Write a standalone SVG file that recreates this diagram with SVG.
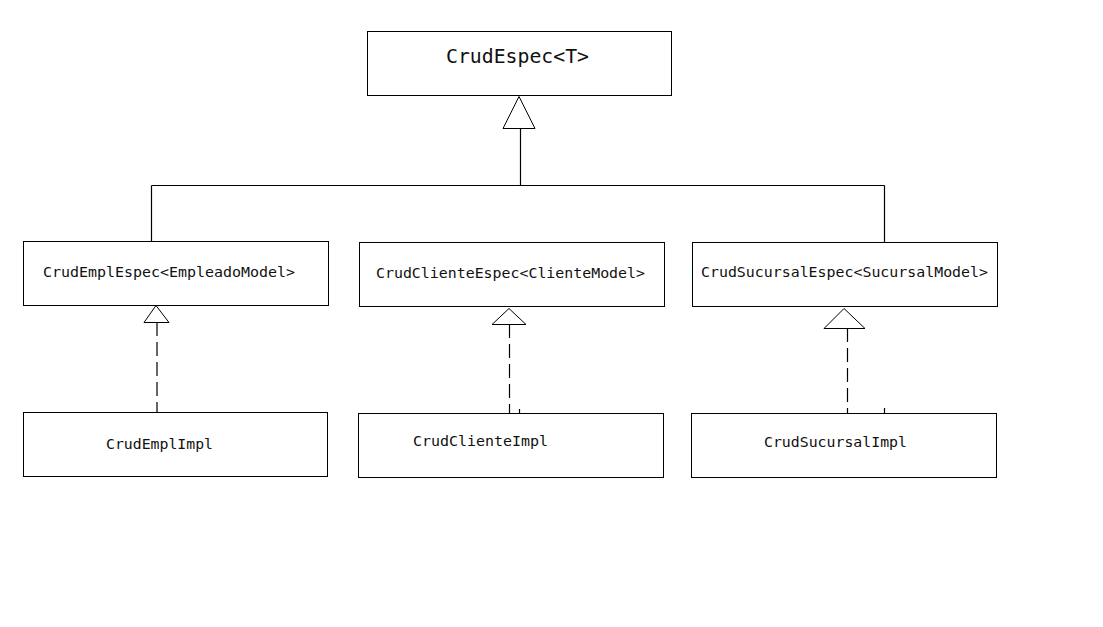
<svg xmlns="http://www.w3.org/2000/svg" width="1103" height="627" viewBox="0 0 1103 627">
<style>
.box{fill:#fff;stroke:#000;stroke-width:1;shape-rendering:crispEdges}
.ln{fill:none;stroke:#000;stroke-width:1.2}
.dash{fill:none;stroke:#000;stroke-width:1.2;stroke-dasharray:14 6}
.tri{fill:#fff;stroke:#000;stroke-width:1}
.t{font-family:"DejaVu Sans Mono","Liberation Mono",monospace;font-size:14.5px;fill:#111}
.tb{font-family:"DejaVu Sans Mono","Liberation Mono",monospace;font-size:19px;fill:#111}
</style>
<rect width="1103" height="627" fill="#fff"/>
<g id="connectors">
<path class="ln" d="M520.5 128 V185.5 M151.5 185.5 H884.5 M151.5 185.5 V242 M884.5 185.5 V246"/>
<polygon class="tri" points="519,96.5 503,128.5 535,128.5"/>
<path class="dash" d="M157 322 V414"/>
<polygon class="tri" points="156,305.5 144,322.5 169,322.5"/>
<path class="dash" d="M509.5 324 V415"/>
<polygon class="tri" points="509,308.5 492,324.5 526,324.5"/>
<path class="dash" d="M847.5 328 V415"/>
<polygon class="tri" points="844,308.5 824,328.5 865,328.5"/>
<path class="ln" d="M519.5 409 V414 M884.5 408 V414"/>
</g>
<g id="crudEspec">
<rect class="box" x="367.5" y="31.5" width="304" height="64"/>
<text class="tb" x="446" y="63" textLength="143" lengthAdjust="spacingAndGlyphs">CrudEspec&lt;T&gt;</text>
</g>
<g id="crudEmplEspec">
<rect class="box" x="23.5" y="241.5" width="305" height="64"/>
<text class="t" x="43" y="277" textLength="252" lengthAdjust="spacingAndGlyphs">CrudEmplEspec&lt;EmpleadoModel&gt;</text>
</g>
<g id="crudClienteEspec">
<rect class="box" x="359.5" y="242.5" width="305" height="64"/>
<text class="t" x="376" y="278" textLength="269" lengthAdjust="spacingAndGlyphs">CrudClienteEspec&lt;ClienteModel&gt;</text>
</g>
<g id="crudSucursalEspec">
<rect class="box" x="692.5" y="242.5" width="305" height="64"/>
<text class="t" x="701" y="277" textLength="287" lengthAdjust="spacingAndGlyphs">CrudSucursalEspec&lt;SucursalModel&gt;</text>
</g>
<g id="crudEmplImpl">
<rect class="box" x="23.5" y="412.5" width="304" height="64"/>
<text class="t" x="106" y="449" textLength="107" lengthAdjust="spacingAndGlyphs">CrudEmplImpl</text>
</g>
<g id="crudClienteImpl">
<rect class="box" x="358.5" y="413.5" width="305" height="64"/>
<text class="t" x="413" y="446" textLength="135" lengthAdjust="spacingAndGlyphs">CrudClienteImpl</text>
</g>
<g id="crudSucursalImpl">
<rect class="box" x="691.5" y="413.5" width="305" height="64"/>
<text class="t" x="764" y="447" textLength="143" lengthAdjust="spacingAndGlyphs">CrudSucursalImpl</text>
</g>
</svg>
